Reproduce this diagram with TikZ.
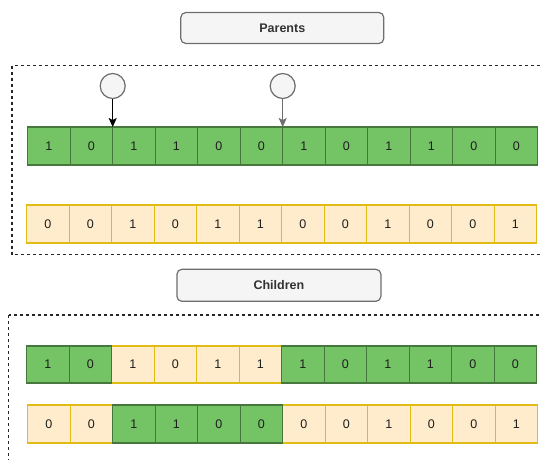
\documentclass[tikz,border=0pt]{standalone}
\usepackage{fontspec}
\setmainfont{Liberation Sans}
\usetikzlibrary{arrows.meta}
\definecolor{gfill}{RGB}{116,195,101}
\definecolor{gdraw}{RGB}{70,120,62}
\definecolor{yfill}{RGB}{255,236,204}
\definecolor{ydraw}{RGB}{224,188,20}
\definecolor{lfill}{RGB}{245,245,245}
\definecolor{ldraw}{RGB}{110,110,110}
\definecolor{ltxt}{RGB}{51,51,51}
\definecolor{celltxt}{RGB}{30,30,30}
\begin{document}
\begin{tikzpicture}[x=1pt,y=-1pt,
  cellg/.style={draw=gdraw, fill=gfill, line width=1.2pt, minimum width=42.5pt,
    minimum height=38pt, inner sep=0pt, outer sep=0pt,
    font=\fontsize{12.5}{14}\selectfont, text=celltxt},
  celly/.style={cellg, draw=ydraw, fill=yfill},
  lbl/.style={draw=ldraw, fill=lfill, line width=1.2pt, rounded corners=5pt,
    minimum width=203pt, minimum height=31pt, inner sep=0pt,
    font=\bfseries\fontsize{12.5}{15}\selectfont, text=ltxt},
  dot/.style={circle, draw=ldraw, fill=lfill, line width=1.2pt,
    minimum size=25pt, inner sep=0pt},
  frame/.style={draw=black!85, line width=1.1pt, dash pattern=on 3pt off 3pt},
  pick/.style={line width=1.1pt, -{Stealth[length=9pt,width=8pt,inset=2pt]}}]
\useasboundingbox (0,0) rectangle (541,459);
\clip (0,0) rectangle (541,459);

% dashed frames
\draw[frame] (12,65.7) rectangle (570,254.5);
\draw[frame] (8.7,315) rectangle (570,490);

% labels
\node[lbl] (parents) at (282.3,28) {Parents};
\node[lbl, minimum width=204pt, minimum height=32pt] (children) at (278.9,285.3) {Children};

% parents: green row
\foreach \v [count=\i from 0] in {1,0,1,1,0,0,1,0,1,1,0,0}
  \node[cellg] (A\i) at (27.7+42.5*\i+21.25,146) {\v};
% parents: yellow row
\foreach \v [count=\i from 0] in {0,0,1,0,1,1,0,0,1,0,0,1}
  \node[celly] (B\i) at (26.7+42.5*\i+21.25,224) {\v};

% children: first row
\foreach \i/\v in {2/1,3/0,4/1,5/1}
  \node[celly, minimum height=37pt] (C\i) at (26.7+42.5*\i+21.25,364.5) {\v};
\foreach \i/\v in {0/1,1/0,6/1,7/0,8/1,9/1,10/0,11/0}
  \node[cellg, minimum height=37pt] (C\i) at (26.7+42.5*\i+21.25,364.5) {\v};
% children: second row
\foreach \i/\v in {0/0,1/0,6/0,7/0,8/1,9/0,10/0,11/1}
  \node[celly] (D\i) at (27.7+42.5*\i+21.25,424) {\v};
\foreach \i/\v in {2/1,3/1,4/0,5/0}
  \node[cellg] (D\i) at (27.7+42.5*\i+21.25,424) {\v};

% crossover points
\node[dot] (p1) at (112.7,86) {};
\node[dot] (p2) at (282.7,86) {};
\draw[pick, black] (p1) -- (A2.north west);
\draw[pick, ldraw] (p2) -- (A6.north west);
\end{tikzpicture}
\end{document}
